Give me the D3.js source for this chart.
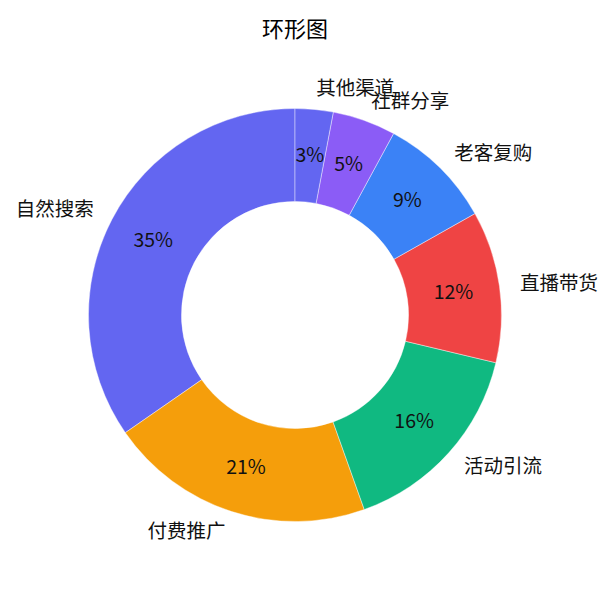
<!DOCTYPE html>
<html>
<head>
<meta charset="utf-8">
<script src="https://cdn.jsdelivr.net/npm/d3@7"></script>
<style>
  body { margin: 0; background: #fff; }
  text { font-family: "Noto Sans CJK SC", "Noto Sans", sans-serif; }
</style>
</head>
<body>
<div id="chart"></div>
<script>
var width = 615;
var height = 589;

var categories = ["自然搜索", "付费推广", "活动引流", "直播带货", "老客复购", "社群分享", "其他渠道"];
var values = [35, 21, 16, 12, 9, 5, 3];
var colors = ["#6366f1", "#f59e0b", "#10b981", "#ef4444", "#3b82f6", "#8b5cf6", "#6366f1"];

var cx = 295, cy = 315;
var outerR = 206.5;
var innerR = outerR * 0.55;
var pctR = outerR * 0.775;
var labelR = outerR * 1.1;

var total = d3.sum(values);

var svg = d3.select("#chart")
  .append("svg")
  .attr("width", width)
  .attr("height", height);

// title
svg.append("text")
  .attr("x", cx)
  .attr("y", 27)
  .attr("text-anchor", "middle")
  .attr("dominant-baseline", "central")
  .attr("font-size", "22px")
  .attr("fill", "#000")
  .text("环形图");

// counterclockwise from the top, like matplotlib startangle=90
var pie = d3.pie()
  .sort(null)
  .startAngle(0)
  .endAngle(-2 * Math.PI);

var arcs = pie(values);

var arc = d3.arc()
  .innerRadius(innerR)
  .outerRadius(outerR);

var g = svg.append("g")
  .attr("transform", "translate(" + cx + "," + cy + ")");

g.selectAll("path")
  .data(arcs)
  .enter()
  .append("path")
  .attr("d", arc)
  .attr("fill", function(d, i) { return colors[i]; })
  .attr("stroke", "#fff")
  .attr("stroke-opacity", 0.6)
  .attr("stroke-width", 0.7);

function mid(d) {
  return (d.startAngle + d.endAngle) / 2;
}

// percentages inside the ring
g.selectAll("text.pct")
  .data(arcs)
  .enter()
  .append("text")
  .attr("class", "pct")
  .attr("x", function(d) { return pctR * Math.sin(mid(d)); })
  .attr("y", function(d) { return -pctR * Math.cos(mid(d)) - 2; })
  .attr("text-anchor", "middle")
  .attr("dominant-baseline", "central")
  .attr("font-size", "19.5px")
  .attr("fill", "#111")
  .text(function(d) { return Math.round(d.value / total * 100) + "%"; });

// category labels outside
g.selectAll("text.label")
  .data(arcs)
  .enter()
  .append("text")
  .attr("class", "label")
  .attr("x", function(d) { return labelR * Math.sin(mid(d)); })
  .attr("y", function(d) { return -labelR * Math.cos(mid(d)) - 2; })
  .attr("text-anchor", function(d) { return Math.sin(mid(d)) > 0 ? "start" : "end"; })
  .attr("dominant-baseline", "central")
  .attr("font-size", "19.5px")
  .attr("fill", "#111")
  .text(function(d, i) { return categories[i]; });
</script>
</body>
</html>
